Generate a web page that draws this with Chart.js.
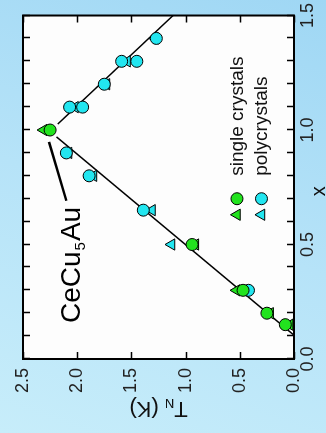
<!DOCTYPE html>
<html>
<head>
<meta charset="utf-8">
<script src="https://cdn.jsdelivr.net/npm/chart.js@4.4.1/dist/chart.umd.min.js"></script>
<style>
  html, body {
    margin: 0; padding: 0; width: 326px; height: 433px; overflow: hidden;
    background: linear-gradient(200deg, #9fd7f4 0%, #b6e3f8 50%, #c7edfa 100%);
  }
  /* plot is laid out landscape, then turned a quarter to the left */
  #wrap {
    position: absolute; left: 0; top: 0; width: 433px; height: 326px;
    transform-origin: 0 0; transform: translate(0, 433px) rotate(-90deg);
  }
</style>
</head>
<body>
<div id="wrap"><canvas id="chart" width="433" height="326"></canvas></div>
<script>
// Neel temperature vs Au content x
const xSingleCirc = [1.0, 0.5, 0.3, 0.2, 0.15];
const tSingleCirc = [2.25, 0.94, 0.47, 0.25, 0.08];
const xSingleTri  = [1.0, 0.5, 0.3, 0.2, 0.15];
const tSingleTri  = [2.31, 0.91, 0.53, 0.22, 0.04];

const xPolyCirc = [1.1, 1.1, 1.2, 1.3, 1.3, 1.4, 0.9, 0.8, 0.65, 0.3];
const tPolyCirc = [2.07, 1.95, 1.75, 1.59, 1.45, 1.27, 2.10, 1.89, 1.39, 0.42];
const xPolyTri  = [1.1, 1.2, 1.3, 1.4, 0.9, 0.8, 0.65, 0.5];
const tPolyTri  = [2.02, 1.73, 1.54, 1.28, 2.08, 1.85, 1.31, 1.13];

// guide lines on either side of x = 1
const xFitLow  = [0.104, 0.97];
const tFitLow  = [0, 2.19];
const xFitHigh = [1.026, 1.5];
const tFitHigh = [2.18, 1.116];
// pointer from the compound label to x = 1
const xPointer = [0.948, 0.691];
const tPointer = [2.26, 2.10];

const xTicks = [0, 0.1, 0.2, 0.3, 0.4, 0.5, 0.6, 0.7, 0.8, 0.9, 1.0, 1.1, 1.2, 1.3, 1.4, 1.5];
const xTickLabels = ["0.0", "0.5", "1.0", "1.5"];
const tTicks = [0, 0.5, 1.0, 1.5, 2.0, 2.5];
const tTickLabels = ["0.0", "0.5", "1.0", "1.5", "2.0", "2.5"];

const GREEN = "#22e31e";
const CYAN = "#22e6f0";
const FONT = "'Liberation Sans', Arial, sans-serif";

const pts = (xs, ys) => xs.map((x, i) => ({ x: x, y: ys[i] }));

function markerSet(xs, ys, color, style, order) {
    return {
        type: "scatter",
        data: pts(xs, ys),
        pointStyle: style,
        pointRadius: style === "triangle" ? 6.5 : 6,
        backgroundColor: color,
        borderColor: "#000",
        borderWidth: 1,
        order: order,
    };
}

function lineSet(xs, ys, width) {
    return {
        type: "line",
        data: pts(xs, ys),
        borderColor: "#000",
        borderWidth: width,
        pointRadius: 0,
        fill: false,
        order: 10,
    };
}

const frame = {
    id: "frame",
    beforeDraw(chart) {
        const { ctx, chartArea: a } = chart;
        ctx.save();
        ctx.fillStyle = "#fdfdfd";
        ctx.fillRect(a.left, a.top, a.right - a.left, a.bottom - a.top);
        ctx.restore();
    },
    afterDraw(chart) {
        const { ctx, chartArea: a } = chart;
        const sx = chart.scales.x, sy = chart.scales.y;
        ctx.save();
        ctx.strokeStyle = "#000";
        ctx.lineWidth = 2;
        ctx.strokeRect(a.left, a.top, a.right - a.left, a.bottom - a.top);

        // inward ticks on all four sides
        ctx.lineWidth = 1.5;
        ctx.beginPath();
        xTicks.forEach(v => {
            const p = Math.round(sx.getPixelForValue(v)) + 0.5;
            ctx.moveTo(p, a.bottom); ctx.lineTo(p, a.bottom - 7);
            ctx.moveTo(p, a.top); ctx.lineTo(p, a.top + 7);
        });
        tTicks.forEach(v => {
            const p = Math.round(sy.getPixelForValue(v)) + 0.5;
            ctx.moveTo(a.left, p); ctx.lineTo(a.left + 7, p);
            ctx.moveTo(a.right, p); ctx.lineTo(a.right - 7, p);
        });
        ctx.stroke();

        ctx.fillStyle = "#111";
        // x axis title
        ctx.font = `20px ${FONT}`;
        ctx.textAlign = "center";
        ctx.textBaseline = "alphabetic";
        ctx.fillText("x", (a.left + a.right) / 2 - 4, chart.height - 1);

        // T_N (K) axis title, reading upwards
        ctx.save();
        ctx.translate(31, (a.top + a.bottom) / 2);
        ctx.rotate(-Math.PI / 2);
        ctx.textAlign = "left";
        ctx.font = `22px ${FONT}`;
        const wT = ctx.measureText("T").width;
        const wK = ctx.measureText(" (K)").width;
        ctx.font = `13px ${FONT}`;
        const wN = ctx.measureText("N").width;
        let px = -(wT + wN + wK) / 2;
        ctx.font = `22px ${FONT}`;
        ctx.fillText("T", px, 0); px += wT;
        ctx.font = `13px ${FONT}`;
        ctx.fillText("N", px, 3); px += wN;
        ctx.font = `22px ${FONT}`;
        ctx.fillText(" (K)", px, 0);
        ctx.restore();

        // compound label
        let lx = sx.getPixelForValue(0.157);
        const ly = sy.getPixelForValue(1.97);
        ctx.textAlign = "left";
        ctx.fillStyle = "#000";
        ctx.font = `28px ${FONT}`;
        ctx.fillText("CeCu", lx, ly); lx += ctx.measureText("CeCu").width;
        ctx.font = `15px ${FONT}`;
        ctx.fillText("5", lx + 1, ly + 5); lx += ctx.measureText("5").width + 2;
        ctx.font = `28px ${FONT}`;
        ctx.fillText("Au", lx, ly);

        // legend
        const rows = [
            { t: 0.526, color: GREEN, text: "single crystals" },
            { t: 0.30, color: CYAN, text: "polycrystals" },
        ];
        ctx.lineWidth = 1;
        ctx.font = `19px ${FONT}`;
        ctx.fillStyle = "#111";
        rows.forEach(r => {
            const cy = sy.getPixelForValue(r.t);
            const tx = sx.getPixelForValue(0.63);
            const cx = sx.getPixelForValue(0.70);
            ctx.fillStyle = r.color;
            ctx.beginPath();
            for (let k = 0; k < 3; k++) {
                const ang = k * 2 * Math.PI / 3;
                const qx = tx + Math.sin(ang) * 6.5, qy = cy - Math.cos(ang) * 6.5;
                if (k === 0) ctx.moveTo(qx, qy); else ctx.lineTo(qx, qy);
            }
            ctx.closePath();
            ctx.fill(); ctx.stroke();
            ctx.beginPath();
            ctx.arc(cx, cy, 6, 0, Math.PI * 2);
            ctx.fill(); ctx.stroke();
            ctx.fillStyle = "#111";
            ctx.fillText(r.text, sx.getPixelForValue(0.80), cy + 6);
        });
        ctx.restore();
    },
};

new Chart(document.getElementById("chart"), {
    data: {
        datasets: [
            lineSet(xFitLow, tFitLow, 1.5),
            lineSet(xFitHigh, tFitHigh, 1.5),
            lineSet(xPointer, tPointer, 2.5),
            markerSet(xPolyTri, tPolyTri, CYAN, "triangle", 4),
            markerSet(xPolyCirc, tPolyCirc, CYAN, "circle", 3),
            markerSet(xSingleTri, tSingleTri, GREEN, "triangle", 2),
            markerSet(xSingleCirc, tSingleCirc, GREEN, "circle", 1),
        ],
    },
    options: {
        responsive: false,
        animation: false,
        devicePixelRatio: 1,
        layout: { padding: { top: 23, right: 14, left: 0, bottom: 0 } },
        plugins: { legend: { display: false }, tooltip: { enabled: false } },
        scales: {
            x: {
                type: "linear",
                min: 0,
                max: 1.5,
                afterBuildTicks: s => { s.ticks = xTicks.map(v => ({ value: v })); },
                afterFit: s => { s.height = 32; },
                grid: { display: false, drawTicks: false },
                border: { display: false },
                ticks: {
                    autoSkip: false,
                    maxRotation: 0,
                    padding: 3,
                    color: "#222",
                    font: { family: FONT, size: 18 },
                    callback: v => {
                        const lbl = v.toFixed(1);
                        return xTickLabels.includes(lbl) ? lbl : "";
                    },
                },
            },
            y: {
                type: "linear",
                min: 0,
                max: 2.5,
                afterBuildTicks: s => { s.ticks = tTicks.map(v => ({ value: v })); },
                afterFit: s => { s.width = 74; },
                grid: { display: false, drawTicks: false },
                border: { display: false },
                ticks: {
                    autoSkip: false,
                    padding: 9,
                    color: "#222",
                    font: { family: FONT, size: 18 },
                    callback: v => tTickLabels[tTicks.indexOf(v)],
                },
            },
        },
    },
    plugins: [frame],
});
</script>
</body>
</html>
